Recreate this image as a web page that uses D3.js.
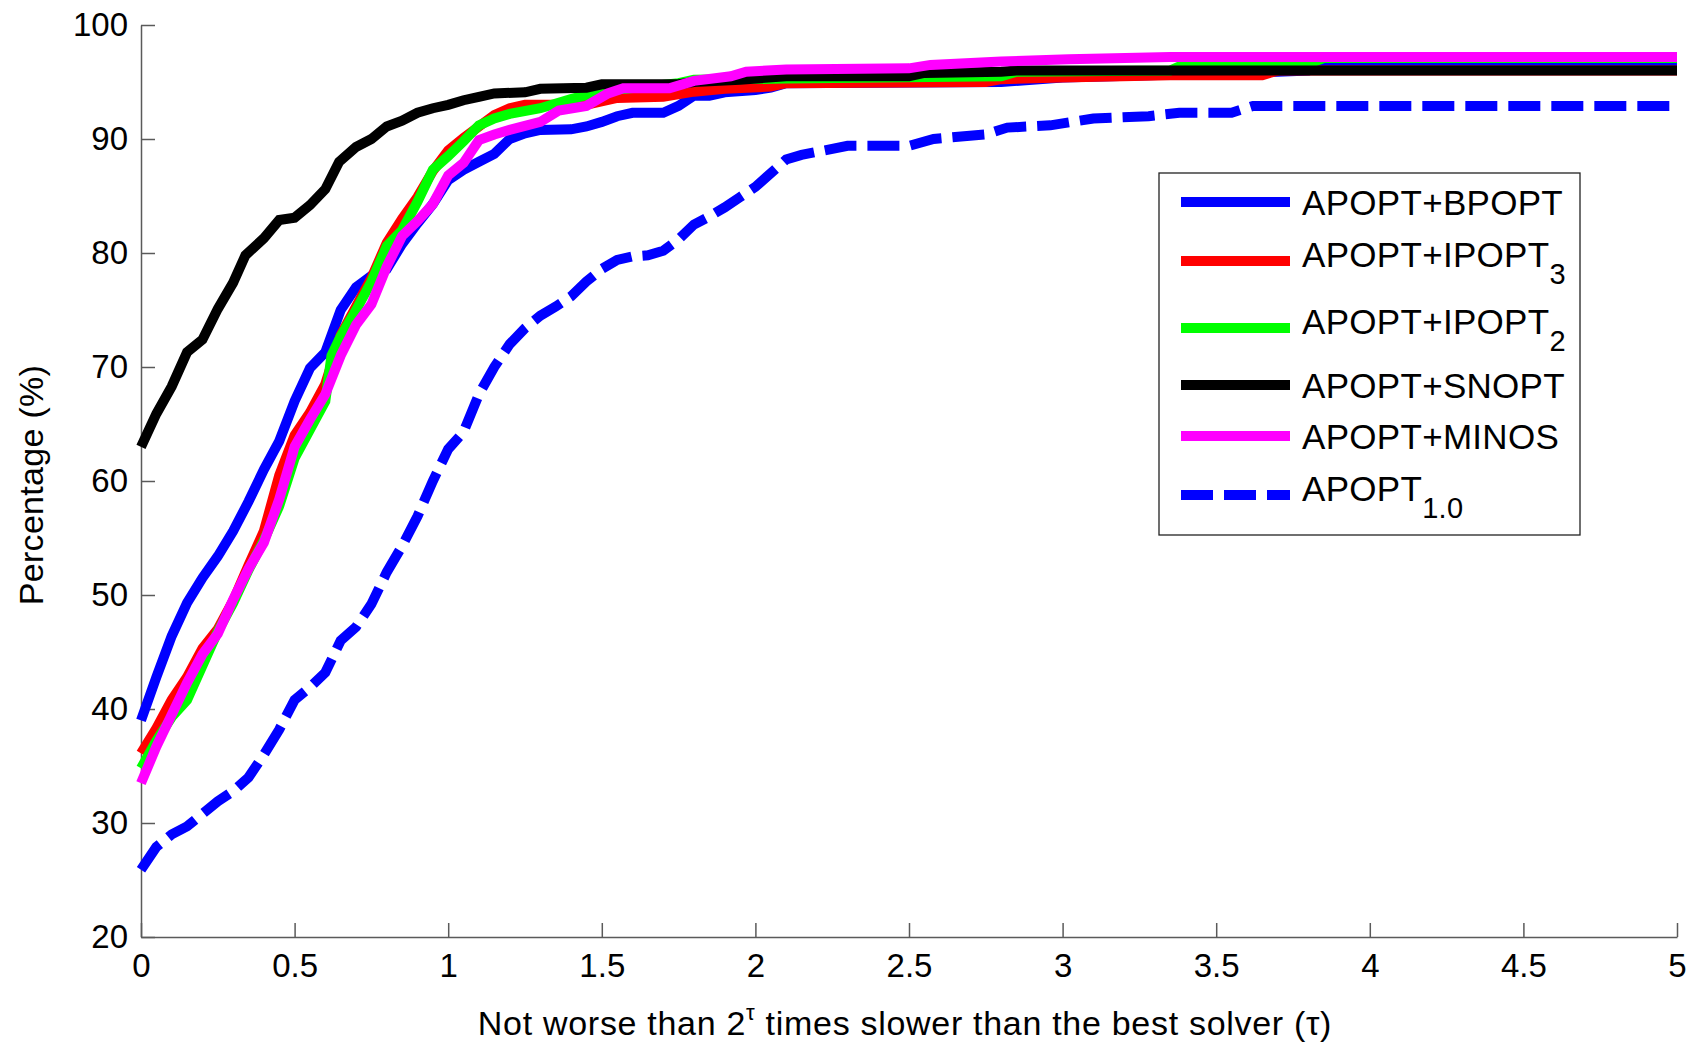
<!DOCTYPE html>
<html>
<head>
<meta charset="utf-8">
<script src="https://cdn.jsdelivr.net/npm/d3@7"></script>
<style>
  html, body { margin: 0; padding: 0; background: #fff; }
  svg { display: block; font-family: "Liberation Sans", Arial, sans-serif; }
  .axis text { font-size: 33px; fill: #000; }
  .axis path, .axis line { stroke: #5a5a5a; stroke-width: 1.5; }
</style>
</head>
<body>
<div chart></div>
<script>
// performance profile values: [tau, percentage]
const bpopt = [
  [0, 39.0], [0.05, 42.8], [0.1, 46.4], [0.15, 49.3], [0.2, 51.5], [0.25, 53.4],
  [0.3, 55.6], [0.35, 58.2], [0.4, 61.0], [0.45, 63.5], [0.5, 67.0], [0.55, 69.9],
  [0.6, 71.3], [0.65, 75.0], [0.7, 77.0], [0.75, 78.0], [0.8, 78.6], [0.85, 80.8],
  [0.9, 82.6], [0.95, 84.3], [1.0, 86.4], [1.05, 87.3], [1.1, 88.0], [1.15, 88.7],
  [1.2, 90.0], [1.25, 90.5], [1.3, 90.8], [1.4, 90.85], [1.45, 91.1], [1.5, 91.5],
  [1.55, 92.0], [1.6, 92.3], [1.7, 92.3], [1.75, 92.9], [1.8, 93.8], [1.85, 93.8],
  [1.9, 94.1], [2.0, 94.3], [2.05, 94.5], [2.1, 94.9], [2.8, 95.0], [3.0, 95.4],
  [3.7, 95.9], [3.8, 96.0], [3.85, 96.6], [5, 96.6]
];
const ipopt3 = [
  [0, 36.1], [0.05, 38.3], [0.1, 40.8], [0.15, 42.8], [0.2, 45.3], [0.25, 47.0],
  [0.3, 49.5], [0.35, 52.6], [0.4, 55.6], [0.45, 60.5], [0.5, 64.0], [0.55, 66.0],
  [0.6, 68.5], [0.65, 72.8], [0.7, 75.3], [0.75, 77.8], [0.8, 80.9], [0.85, 83.0],
  [0.9, 84.9], [0.95, 87.2], [1.0, 89.0], [1.05, 90.1], [1.1, 91.1], [1.15, 92.1],
  [1.2, 92.7], [1.25, 93.0], [1.45, 93.0], [1.55, 93.6], [1.7, 93.7], [1.8, 94.15],
  [1.9, 94.4], [2.05, 94.6], [2.1, 94.9], [2.75, 95.0], [2.8, 95.25], [3.0, 95.4],
  [3.35, 95.6], [3.65, 95.6], [3.7, 96.0], [5, 96.0]
];
const ipopt2 = [
  [0, 34.8], [0.05, 37.2], [0.1, 39.3], [0.15, 40.8], [0.2, 43.8], [0.25, 46.8],
  [0.3, 49.3], [0.35, 52.2], [0.4, 54.8], [0.45, 57.8], [0.5, 62.0], [0.55, 64.5],
  [0.6, 67.0], [0.62, 71.0], [0.65, 72.7], [0.7, 75.0], [0.75, 77.5], [0.8, 80.6],
  [0.85, 82.0], [0.9, 84.5], [0.95, 87.3], [1.0, 88.5], [1.05, 89.8], [1.1, 91.2],
  [1.15, 91.8], [1.2, 92.2], [1.3, 92.7], [1.4, 93.5], [1.5, 94.2], [1.65, 94.6],
  [1.75, 94.9], [1.8, 95.2], [2.1, 95.3], [2.8, 95.5], [2.85, 95.9], [3.35, 96.0],
  [3.4, 96.6], [3.8, 96.6], [3.85, 97.1], [5, 97.1]
];
const snopt = [
  [0, 63.0], [0.05, 65.9], [0.1, 68.3], [0.15, 71.3], [0.2, 72.4], [0.25, 75.1],
  [0.3, 77.4], [0.34, 79.8], [0.4, 81.3], [0.45, 82.9], [0.5, 83.1], [0.55, 84.2],
  [0.6, 85.6], [0.645, 88.0], [0.7, 89.3], [0.75, 90.0], [0.8, 91.1], [0.85, 91.6],
  [0.9, 92.3], [0.95, 92.7], [1.0, 93.0], [1.05, 93.4], [1.1, 93.7], [1.15, 94.0],
  [1.25, 94.1], [1.3, 94.4], [1.45, 94.5], [1.5, 94.8], [1.75, 94.8], [1.8, 95.0],
  [1.95, 95.2], [2.1, 95.5], [2.5, 95.5], [2.55, 95.8], [2.8, 95.9], [2.85, 96.0],
  [5, 96.0]
];
const minos = [
  [0, 33.5], [0.05, 36.7], [0.1, 39.5], [0.15, 42.3], [0.2, 44.8], [0.25, 46.6],
  [0.3, 49.6], [0.35, 52.3], [0.4, 54.6], [0.45, 58.4], [0.5, 63.0], [0.55, 65.4],
  [0.6, 67.6], [0.65, 71.0], [0.7, 73.7], [0.75, 75.5], [0.8, 78.8], [0.85, 81.5],
  [0.9, 82.8], [0.95, 84.3], [1.0, 86.8], [1.05, 87.9], [1.1, 89.9], [1.15, 90.4],
  [1.2, 90.8], [1.3, 91.5], [1.36, 92.5], [1.45, 92.9], [1.52, 94.0], [1.57, 94.45],
  [1.72, 94.45], [1.8, 95.1], [1.92, 95.5], [1.97, 95.9], [2.1, 96.1], [2.5, 96.2],
  [2.57, 96.5], [2.8, 96.8], [3.02, 97.0], [3.35, 97.2], [5, 97.2]
];
const apopt10 = [
  [0, 25.9], [0.05, 27.9], [0.1, 29.0], [0.15, 29.7], [0.2, 30.8], [0.25, 31.9],
  [0.3, 32.8], [0.35, 34.0], [0.4, 36.0], [0.45, 38.2], [0.5, 40.8], [0.55, 41.9],
  [0.6, 43.2], [0.65, 46.0], [0.7, 47.2], [0.75, 49.2], [0.8, 52.0], [0.85, 54.3],
  [0.9, 56.9], [0.95, 60.0], [1.0, 62.8], [1.05, 64.3], [1.1, 67.6], [1.15, 70.0],
  [1.2, 72.0], [1.25, 73.4], [1.3, 74.5], [1.35, 75.3], [1.4, 76.2], [1.45, 77.5],
  [1.5, 78.6], [1.55, 79.4], [1.6, 79.7], [1.65, 79.8], [1.7, 80.2], [1.75, 81.2],
  [1.8, 82.5], [1.85, 83.2], [1.9, 84.0], [1.95, 84.9], [2.0, 85.8], [2.05, 87.0],
  [2.1, 88.2], [2.15, 88.6], [2.3, 89.4], [2.5, 89.4], [2.58, 90.0], [2.75, 90.4],
  [2.82, 91.0], [2.96, 91.2], [3.1, 91.8], [3.28, 92.0], [3.38, 92.3], [3.55, 92.3],
  [3.62, 92.9], [5, 92.9]
];

const seriesNames = ["APOPT+BPOPT", "APOPT+IPOPT", "APOPT+IPOPT", "APOPT+SNOPT", "APOPT+MINOS", "APOPT"];
const seriesSubs = ["", "3", "2", "", "", "1.0"];
const seriesColors = ["#0000ff", "#ff0000", "#00ff00", "#000000", "#ff00ff", "#0000ff"];
const seriesData = [bpopt, ipopt3, ipopt2, snopt, minos, apopt10];
const xTicks = [0, 0.5, 1, 1.5, 2, 2.5, 3, 3.5, 4, 4.5, 5];
const yTicks = [20, 30, 40, 50, 60, 70, 80, 90, 100];

const size = { width: 1700, height: 1046 };
const plot = { left: 141, right: 1677, top: 25, bottom: 937 };

const svg = d3
  .select("[chart]")
  .append("svg")
  .attr("width", size.width)
  .attr("height", size.height);

const xScale = d3.scaleLinear().domain([0, 5]).range([plot.left, plot.right]);
const yScale = d3.scaleLinear().domain([20, 100]).range([plot.bottom, plot.top]);

// axes, ticks pointing inward like matlab
svg
  .append("g")
  .attr("class", "axis")
  .attr("transform", `translate(0,${plot.bottom})`)
  .call(
    d3.axisBottom(xScale)
      .tickValues(xTicks)
      .tickSizeInner(-14)
      .tickSizeOuter(0)
      .tickPadding(17)
      .tickFormat(d3.format("~g"))
  );

svg
  .append("g")
  .attr("class", "axis")
  .attr("transform", `translate(${plot.left},0)`)
  .call(
    d3.axisLeft(yScale)
      .tickValues(yTicks)
      .tickSizeInner(-14)
      .tickSizeOuter(0)
      .tickPadding(13)
  );

// curves
const line = d3
  .line()
  .x((d) => xScale(d[0]))
  .y((d) => yScale(d[1]));

seriesData.forEach((data, i) => {
  svg
    .append("path")
    .datum(data)
    .attr("d", line)
    .attr("fill", "none")
    .attr("stroke", seriesColors[i])
    .attr("stroke-width", 10)
    .attr("stroke-linejoin", "miter")
    .attr("stroke-miterlimit", 2)
    .attr("stroke-dasharray", i === 5 ? "32,11" : null);
});

// axis titles
svg
  .append("text")
  .attr("x", 905)
  .attr("y", 1035)
  .attr("text-anchor", "middle")
  .attr("font-size", 34)
  .attr("letter-spacing", 0.7)
  .call((t) => {
    t.append("tspan").text("Not worse than 2");
    t.append("tspan").attr("font-size", 22).attr("dy", -15).text("τ");
    t.append("tspan").attr("dy", 15).text(" times slower than the best solver (τ)");
  });

svg
  .append("text")
  .attr("transform", "translate(43,485) rotate(-90)")
  .attr("text-anchor", "middle")
  .attr("font-size", 34)
  .attr("letter-spacing", 0.3)
  .text("Percentage (%)");

// legend
const legend = svg.append("g").attr("class", "legend");

legend
  .append("rect")
  .attr("x", 1159)
  .attr("y", 173)
  .attr("width", 421)
  .attr("height", 362)
  .attr("fill", "#fff")
  .attr("stroke", "#222")
  .attr("stroke-width", 1.3);

const legendLineY = [202, 261, 328, 385, 436, 495];

seriesNames.forEach((name, i) => {
  const y = legendLineY[i];
  legend
    .append("line")
    .attr("x1", 1181)
    .attr("x2", 1290)
    .attr("y1", y)
    .attr("y2", y)
    .attr("stroke", seriesColors[i])
    .attr("stroke-width", 10)
    .attr("stroke-dasharray", i === 5 ? "32,11" : null);

  const label = legend
    .append("text")
    .attr("x", 1302)
    .attr("y", seriesSubs[i] ? y + 5.5 : y + 12.5)
    .attr("font-size", 35)
    .attr("letter-spacing", 0.3);

  label.append("tspan").text(name);
  if (seriesSubs[i]) {
    label.append("tspan").attr("font-size", 29).attr("dy", 17).text(seriesSubs[i]);
  }
});
</script>
</body>
</html>
